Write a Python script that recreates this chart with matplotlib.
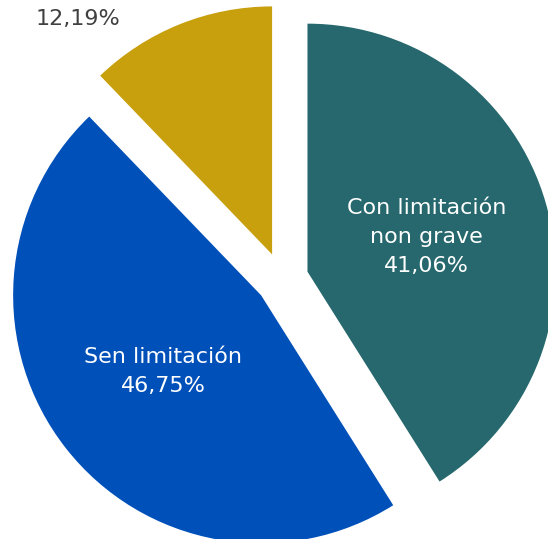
import matplotlib.pyplot as plt

# --- data
categories = ['Con limitación\nnon grave', 'Sen limitación', 'Con limitación\ngrave']
values = [41.06, 46.75, 12.19]
colors = ['#26686d', '#0050b9', '#c8a00d']
text_colors = ['white', 'white', '#404040']

# --- plot
fig = plt.figure(figsize=(5.48, 5.39), dpi=100)
ax = fig.add_axes([0, 0, 1, 1])

labels = [c + '\n' + ('%.2f' % v).replace('.', ',') + '%' for c, v in zip(categories, values)]

# explode is in data units here (not scaled by radius)
wedges, texts = ax.pie(values, colors=colors, labels=labels, startangle=90, counterclock=False,
					   explode=[26.5]*3, radius=248, center=(282, 260), labeldistance=0.5,
					   wedgeprops=dict(linewidth=0),
					   textprops=dict(fontsize=16, linespacing=1.55, ha='center', va='center'))
for t, c in zip(texts, text_colors):
	t.set_color(c)
	t.set_horizontalalignment('center')
	t.set_verticalalignment('center')
# gold label sits outside, top-left (cut off at the top as in the original)
texts[2].set_position((78, 549))

ax.set_xlim(0, 548)
ax.set_ylim(0, 539)
ax.set_aspect('equal')
ax.axis('off')

plt.savefig('out.png', dpi=100, facecolor='white')
